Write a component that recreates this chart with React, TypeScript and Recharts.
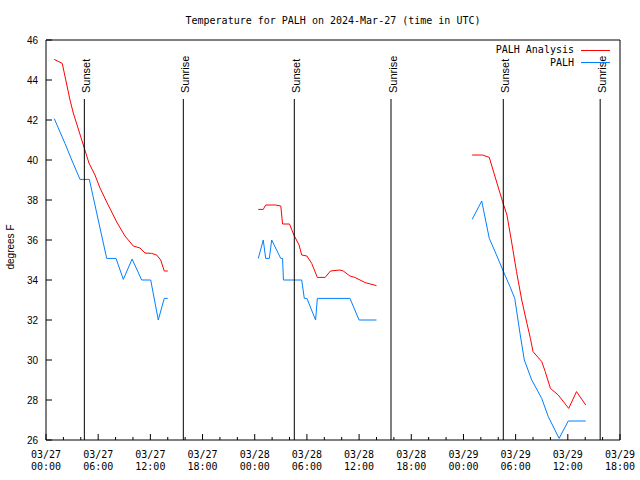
import { LineChart, Line, XAxis, YAxis, ReferenceLine, Legend } from 'recharts'

// hours since 03/27 00:00 UTC; null temp = no data (gap between days)
const analysisTime = [
  0.95, 1.87, 2.76, 3.14, 4.22, 4.94, 5.63, 6.21, 6.98, 8.13, 9.08, 10.04, 10.81, 11.38, 12.15, 12.73, 13.19, 13.6, 14.0,
  19,
  24.41, 24.98, 25.26, 26.4, 27.0, 27.2, 28.0, 28.5, 29.1, 29.4, 30.0, 30.55, 31.2, 32.1, 32.7, 33.8, 34.18, 34.95, 35.5, 36.7, 38.0,
  44,
  49.0, 50.2, 50.97, 51.4, 52.5, 53.0, 53.5, 54.1, 54.7, 55.3, 55.7, 56.0, 57.0, 57.4, 58.0, 58.9, 60.1, 61.0, 62.06,
]
const analysisTemp = [
  45.03, 44.83, 43.0, 42.35, 40.85, 39.85, 39.25, 38.6, 37.9, 36.9, 36.2, 35.7, 35.6, 35.35, 35.33, 35.25, 35.0, 34.45, 34.45,
  null,
  37.53, 37.53, 37.75, 37.75, 37.7, 36.8, 36.8, 36.25, 35.75, 35.25, 35.2, 34.83, 34.13, 34.13, 34.45, 34.5, 34.45, 34.2, 34.13, 33.87, 33.72,
  null,
  40.25, 40.25, 40.13, 39.5, 37.92, 37.25, 36.0, 34.42, 33.0, 31.83, 31.08, 30.42, 29.92, 29.42, 28.58, 28.25, 27.58, 28.42, 27.75,
]

const obsTime = [
  0.95, 2.18, 2.96, 3.91, 4.98, 5.2, 6.98, 8.05, 8.89, 9.9, 11.0, 12.04, 12.91, 13.6, 14.0,
  19,
  24.41, 24.98, 25.26, 25.68, 25.95, 26.99, 27.2, 27.3, 29.4, 29.7, 30.0, 31.0, 31.2, 34.95, 36.0, 38.0,
  44,
  49.0, 50.1, 50.97, 51.8, 52.6, 53.35, 53.9, 54.5, 55.0, 55.85, 57.0, 57.75, 59.0, 60.05, 62.06,
]
const obsTemp = [
  42.07, 40.83, 40.0, 39.03, 39.03, 38.6, 35.08, 35.08, 34.03, 35.05, 34.0, 34.0, 32.0, 33.08, 33.08,
  null,
  35.08, 36.0, 35.08, 35.08, 36.0, 35.08, 35.08, 34.0, 34.0, 33.08, 33.08, 32.0, 33.08, 33.08, 32.0, 32.0,
  null,
  37.03, 37.95, 36.08, 35.25, 34.42, 33.67, 33.08, 31.33, 30.0, 29.0, 28.08, 27.17, 26.08, 26.95, 26.95,
]

const seriesNames = ['PALH Analysis', 'PALH']

const sunTime = [4.41, 15.79, 28.55, 39.67, 52.58, 63.72]
const sunLabel = ['Sunset', 'Sunrise', 'Sunset', 'Sunrise', 'Sunset', 'Sunrise']
const sunLineTop = 43.05

const dayLabels = ['03/27', '03/28', '03/29']
const xTicks = Array.from({ length: 34 }, (_, i) => i * 2)
const yTicks = [26, 28, 30, 32, 34, 36, 38, 40, 42, 44, 46]

const analysisData = analysisTime.map((t, i) => ({ time: t, temp: analysisTemp[i] }))
const obsData = obsTime.map((t, i) => ({ time: t, temp: obsTemp[i] }))

const MONO = '"DejaVu Sans Mono", monospace'
const SANS = '"Liberation Sans", Arial, sans-serif'

function BottomTick({ x, y, payload }: any) {
  const v = payload.value
  const major = v % 6 === 0
  const hh = String(v % 24).padStart(2, '0') + ':00'
  return (
    <g>
      <line x1={x} x2={x} y1={y} y2={y - (major ? 6 : 3)} stroke="#000" />
      {major && (
        <text x={x} y={y} textAnchor="middle" fontFamily={MONO} fontSize={10} fill="#000">
          <tspan x={x} dy={18}>{dayLabels[Math.floor(v / 24)]}</tspan>
          <tspan x={x} dy={12}>{hh}</tspan>
        </text>
      )}
    </g>
  )
}

function TopTick({ x, y, payload }: any) {
  const major = payload.value % 6 === 0
  return <line x1={x} x2={x} y1={y} y2={y + (major ? 6 : 3)} stroke="#000" />
}

function LeftTick({ x, y, payload }: any) {
  return (
    <g>
      <line x1={x} x2={x + 6} y1={y} y2={y} stroke="#000" />
      <text x={x - 8} y={y} dy={3.6} textAnchor="end" fontFamily={SANS} fontSize={10} fill="#000">
        {payload.value}
      </text>
    </g>
  )
}

function RightTick({ x, y }: any) {
  return <line x1={x} x2={x - 6} y1={y} y2={y} stroke="#000" />
}

function SunLabel(props: any) {
  const vb = props.viewBox || props
  const tx = vb.x + 5.5
  const ty = vb.y - 6
  return (
    <text x={tx} y={ty} transform={`rotate(-90 ${tx} ${ty})`} fontFamily={SANS} fontSize={11} fill="#000">
      {props.text}
    </text>
  )
}

function LegendBox({ payload }: any) {
  const items = [...(payload || [])].sort(
    (a: any, b: any) => seriesNames.indexOf(a.value) - seriesNames.indexOf(b.value),
  )
  return (
    <div style={{ fontFamily: MONO, fontSize: 10, lineHeight: '12.5px', color: '#000' }}>
      {items.map((p: any) => (
        <div key={p.value} style={{ display: 'flex', alignItems: 'center', justifyContent: 'flex-end' }}>
          <span>{p.value}</span>
          <span style={{ width: 29, height: 0, borderTop: `1px solid ${p.color}`, marginLeft: 7 }} />
        </div>
      ))}
    </div>
  )
}

export default function App() {
  return (
    <div style={{ position: 'absolute', left: 0, top: 0, width: 640, height: 480, background: '#fff' }}>
      <div
        style={{
          position: 'absolute', left: 46, top: 15, width: 574, textAlign: 'center',
          fontFamily: MONO, fontSize: 10, lineHeight: '12px', color: '#000',
        }}
      >
        Temperature for PALH on 2024-Mar-27 (time in UTC)
      </div>
      <div
        style={{
          position: 'absolute', left: 10, top: 247, transform: 'translate(-50%, -50%) rotate(-90deg)',
          fontFamily: SANS, fontSize: 10, whiteSpace: 'nowrap', color: '#000',
        }}
      >
        degrees F
      </div>
      <LineChart width={640} height={480} margin={{ top: 39, right: 0, bottom: 0, left: 0 }}>
        <XAxis
          dataKey="time" type="number" domain={[0, 66]} ticks={xTicks} allowDataOverflow
          height={40} tickSize={0} tickMargin={0} tickLine={false} tick={<BottomTick />}
          axisLine={{ stroke: '#000' }} interval={0}
        />
        <XAxis
          xAxisId="top" orientation="top" dataKey="time" type="number" domain={[0, 66]} ticks={xTicks}
          height={1} tickSize={0} tickMargin={0} tickLine={false} tick={<TopTick />}
          axisLine={{ stroke: '#000' }} interval={0}
        />
        <YAxis
          type="number" domain={[26, 46]} ticks={yTicks} width={46} tickSize={0} tickMargin={0}
          tickLine={false} tick={<LeftTick />} axisLine={{ stroke: '#000' }} interval={0}
        />
        <YAxis
          yAxisId="right" orientation="right" type="number" domain={[26, 46]} ticks={yTicks} width={20}
          tickSize={0} tickMargin={0} tickLine={false} tick={<RightTick />} axisLine={{ stroke: '#000' }} interval={0}
        />
        <Line
          data={analysisData} dataKey="temp" name={seriesNames[0]} stroke="#ff0000" strokeWidth={1}
          dot={false} isAnimationActive={false} connectNulls={false}
        />
        <Line
          data={obsData} dataKey="temp" name={seriesNames[1]} stroke="#0080ff" strokeWidth={1}
          dot={false} isAnimationActive={false} connectNulls={false}
        />
        {sunTime.map((t, i) => (
          <ReferenceLine
            key={i}
            segment={[{ x: t, y: 26 }, { x: t, y: sunLineTop }]}
            stroke="#000"
            strokeWidth={1}
            label={<SunLabel text={sunLabel[i]} />}
          />
        ))}
        <Legend
          layout="vertical" align="center" verticalAlign="middle" content={<LegendBox />}
          wrapperStyle={{ position: 'absolute', left: 420, top: 44, width: 190, margin: 0 }}
        />
      </LineChart>
    </div>
  )
}
